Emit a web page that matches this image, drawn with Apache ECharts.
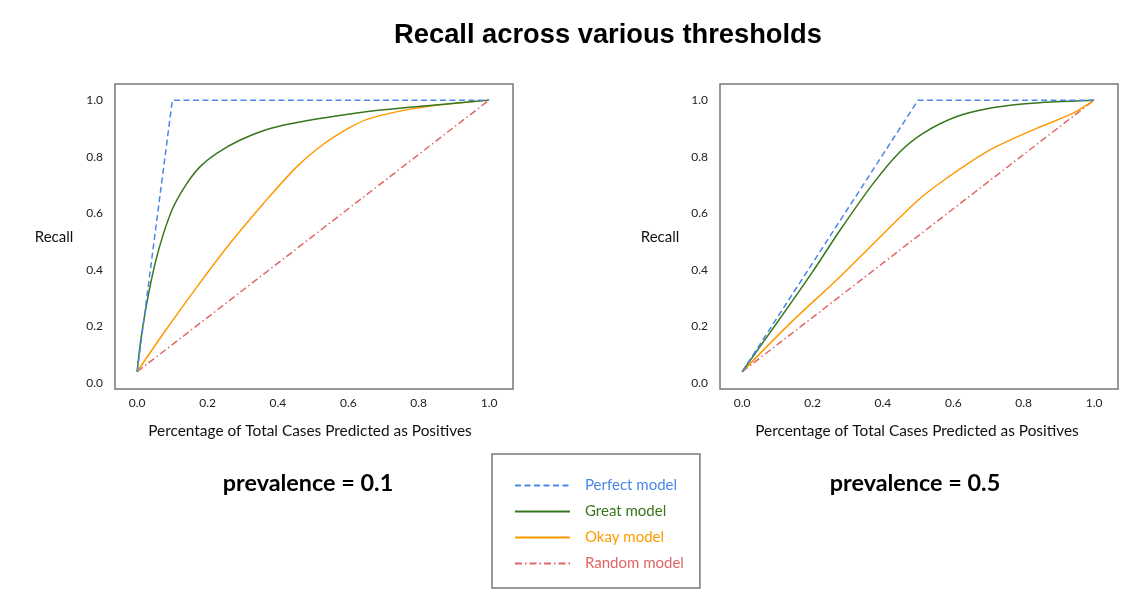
<!DOCTYPE html>
<html>
<head>
<meta charset="utf-8">
<title>Recall across various thresholds</title>
<script src="https://cdn.jsdelivr.net/npm/echarts@6/dist/echarts.min.js"></script>
<style>
    html, body { margin: 0; padding: 0; background: #fff; }
    #main { width: 1146px; height: 611px; }
</style>
</head>
<body>
<div id="main"></div>
<script>
// tick labels shared by both panels
var tickValues = [0, 0.2, 0.4, 0.6, 0.8, 1.0];

// prevalence = 0.1
var perfectLow = [[0, 0.04], [0.1, 1], [1, 1]];
var greatLow = [[0, 0.04], [0.009, 0.14], [0.027, 0.28], [0.051, 0.423], [0.075, 0.529], [0.103, 0.623],
    [0.141, 0.705], [0.179, 0.765], [0.226, 0.812], [0.293, 0.859], [0.378, 0.9], [0.48, 0.927],
    [0.6, 0.95], [0.7, 0.966], [0.84, 0.982], [1, 1]];
var okayLow = [[0, 0.04], [0.075, 0.176], [0.17, 0.34], [0.264, 0.494], [0.359, 0.635], [0.454, 0.765],
    [0.53, 0.845], [0.6, 0.9], [0.653, 0.932], [0.75, 0.962], [0.84, 0.98], [1, 1]];
var randomLow = [[0, 0.04], [1, 1]];

// prevalence = 0.5
var perfectHigh = [[0, 0.04], [0.5, 1], [1, 1]];
var greatHigh = [[0, 0.04], [0.1, 0.215], [0.2, 0.393], [0.278, 0.54], [0.372, 0.705], [0.448, 0.817],
    [0.513, 0.882], [0.608, 0.941], [0.703, 0.971], [0.797, 0.986], [0.891, 0.994], [1, 1]];
var okayHigh = [[0, 0.04], [0.136, 0.211], [0.278, 0.376], [0.495, 0.641], [0.58, 0.723], [0.703, 0.823],
    [0.825, 0.894], [0.939, 0.953], [1, 1]];
var randomHigh = [[0, 0.04], [1, 1]];

var modelNames = ['Perfect model', 'Great model', 'Okay model', 'Random model'];
var modelColors = ['#4a86e8', '#38761d', '#ff9900', '#e06666'];

var myChart = echarts.init(document.getElementById('main'));

function makeX(idx) {
    return {
        type: 'value',
        gridIndex: idx,
        min: -0.063,
        max: 1.068,
        axisLine: { show: false },
        axisTick: { show: false },
        splitLine: { show: false },
        axisLabel: {
            customValues: tickValues,
            margin: 8,
            color: '#222',
            fontFamily: 'Lato',
            fontSize: 12,
            formatter: function (v) { return v.toFixed(1); }
        }
    };
}

function makeY(idx) {
    return {
        type: 'value',
        gridIndex: idx,
        min: -0.021,
        max: 1.057,
        axisLine: { show: false },
        axisTick: { show: false },
        splitLine: { show: false },
        axisLabel: {
            customValues: tickValues,
            margin: 12,
            color: '#222',
            fontFamily: 'Lato',
            fontSize: 12,
            formatter: function (v) { return v.toFixed(1); }
        }
    };
}

function makeSeries(idx, data) {
    // perfect = dashed, random = dash-dot
    var types = [[6, 3.5], 'solid', 'solid', [7, 3, 1.5, 3]];
    var list = [];
    for (var i = 0; i < data.length; i++) {
        list.push({
            name: modelNames[i],
            type: 'line',
            xAxisIndex: idx,
            yAxisIndex: idx,
            data: data[i],
            symbol: 'none',
            smooth: (i == 1 || i == 2) ? 0.3 : false,
            silent: true,
            z: 10 - i,
            lineStyle: {
                color: modelColors[i],
                width: 1.5,
                type: types[i]
            },
            itemStyle: { color: modelColors[i] }
        });
    }
    return list;
}

function txt(text, x, y, font, fill) {
    return {
        type: 'text', x: x, y: y,
        style: { text: text, fill: fill || '#111', font: font, textAlign: 'center', textVerticalAlign: 'middle' }
    };
}

option = {
    animation: false,
    grid: [
        { left: 115, top: 84, width: 398, height: 305, show: true, borderColor: '#777', borderWidth: 1.5 },
        { left: 720, top: 84, width: 398, height: 305, show: true, borderColor: '#777', borderWidth: 1.5 }
    ],
    xAxis: [makeX(0), makeX(1)],
    yAxis: [makeY(0), makeY(1)],
    legend: {
        orient: 'vertical',
        left: 492,
        top: 454,
        padding: [24, 16, 17, 22],
        itemWidth: 55,
        itemHeight: 14,
        itemGap: 11,
        // hide the symbol drawn in the middle of the line icon
        itemStyle: { color: 'rgba(0,0,0,0)', borderWidth: 0, opacity: 0 },
        borderColor: '#777',
        borderWidth: 1.5,
        selectedMode: false,
        data: modelNames.map(function (n, i) {
            return { name: n, textStyle: { color: modelColors[i] } };
        }),
        textStyle: { fontFamily: 'Lato', fontSize: 15, padding: [0, 0, 0, 10] }
    },
    graphic: [
        txt('Recall across various thresholds', 608, 35, 'bold 27.3px "Liberation Sans", Arial', '#000'),
        txt('Recall', 54, 237, '15px Lato'),
        txt('Recall', 660, 237, '15px Lato'),
        txt('Percentage of Total Cases Predicted as Positives', 310, 431, '15.4px Lato'),
        txt('Percentage of Total Cases Predicted as Positives', 917, 431, '15.4px Lato'),
        txt('prevalence = 0.1', 308, 483, 'bold 23.4px Lato', '#000'),
        txt('prevalence = 0.5', 915, 483, 'bold 23.4px Lato', '#000')
    ],
    series: makeSeries(0, [perfectLow, greatLow, okayLow, randomLow])
        .concat(makeSeries(1, [perfectHigh, greatHigh, okayHigh, randomHigh]))
};

myChart.setOption(option);
</script>
</body>
</html>
